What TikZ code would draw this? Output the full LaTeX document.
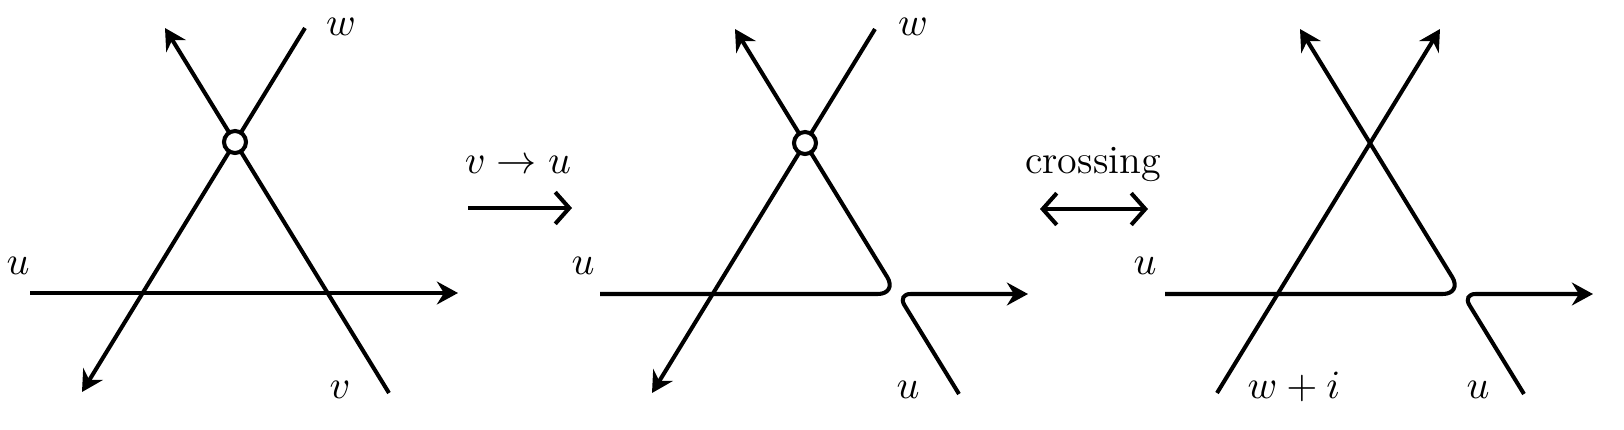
\RequirePackage{fix-cm}
\documentclass[tikz,border=0pt]{standalone}
\usetikzlibrary{arrows.meta}
\begin{document}
\begin{tikzpicture}[
  strand/.style={line width=1.15pt},
  head/.style={-{Stealth[length=6pt,width=6.5pt,inset=2pt]}},
  move/.style={line width=1.15pt,-{Straight Barb[length=4pt,width=9pt]}},
  vertex/.style={circle,draw,fill=white,line width=1.15pt,inner sep=0pt,minimum size=0.22cm},
  lab/.style={anchor=base,font=\fontsize{11.4}{14}\selectfont}]
\useasboundingbox (0,0) rectangle (16.24,4.29);
% left: three lines, one vertex
\begin{scope}[shift={(2.35,2.87)}]
\coordinate (aw1) at (0.70,1.14);
\coordinate (aw2) at (-1.53,-2.50);
\coordinate (av1) at (1.54,-2.51);
\coordinate (av2) at (-0.70,1.14);
\coordinate (au1) at (-2.05,-1.51);
\coordinate (au2) at (2.23,-1.51);
\draw[strand,head] (aw1) -- (aw2);
\draw[strand,head] (av1) -- (av2);
\draw[strand,head] (au1) -- (au2);
\node[vertex] (ax) at (0,0) {};
\node[lab] (alw) at (1.06,1.07) {$w$};
\node[lab] (alu) at (-2.17,-1.32) {$u$};
\node[lab] (alv) at (1.05,-2.56) {$v$};
\end{scope}
% middle: v relabelled
\begin{scope}[shift={(8.05,2.86)}]
\coordinate (bw1) at (0.70,1.14);
\coordinate (bw2) at (-1.53,-2.50);
\coordinate (bv1) at (1.54,-2.51);
\coordinate (bv2) at (-0.70,1.14);
\coordinate (bu1) at (-2.05,-1.51);
\coordinate (bu2) at (2.23,-1.51);
\coordinate (bk) at (0.926,-1.51);
\draw[strand,head] (bw1) -- (bw2);
\draw[strand,head,rounded corners=0.2cm] (bu1) -- (bk) -- (bv2);
\draw[strand,head,rounded corners=0.13cm] (bv1) -- (bk) -- (bu2);
\node[vertex] (bx) at (0,0) {};
\node[lab] (blw) at (1.08,1.08) {$w$};
\node[lab] (blu) at (-2.22,-1.31) {$u$};
\node[lab] (blv) at (1.03,-2.55) {$u$};
\end{scope}
% right: after the crossing move
\begin{scope}[shift={(13.70,2.86)}]
\coordinate (cw1) at (0.70,1.14);
\coordinate (cw2) at (-1.53,-2.50);
\coordinate (cv1) at (1.54,-2.51);
\coordinate (cv2) at (-0.70,1.14);
\coordinate (cu1) at (-2.05,-1.51);
\coordinate (cu2) at (2.23,-1.51);
\coordinate (ck) at (0.926,-1.51);
\draw[strand,head] (cw2) -- (cw1);
\draw[strand,head,rounded corners=0.2cm] (cu1) -- (ck) -- (cv2);
\draw[strand,head,rounded corners=0.13cm] (cv1) -- (ck) -- (cu2);
\node[lab] (clu) at (-2.25,-1.31) {$u$};
\node[lab] (clw) at (-0.76,-2.55) {$w+i$};
\node[lab] (clv) at (1.08,-2.55) {$u$};
\end{scope}
% moves
\coordinate (m1a) at (4.68,2.21);
\coordinate (m1b) at (5.72,2.21);
\coordinate (m2a) at (10.40,2.20);
\coordinate (m2b) at (11.48,2.20);
\draw[move] (m1a) -- (m1b);
\draw[move,{Straight Barb[length=4pt,width=9pt]}-{Straight Barb[length=4pt,width=9pt]}] (m2a) -- (m2b);
\node[lab] (m1l) at (5.18,2.56) {$v\to u$};
\node[lab] (m2l) at (10.93,2.56) {crossing};
\end{tikzpicture}
\end{document}
